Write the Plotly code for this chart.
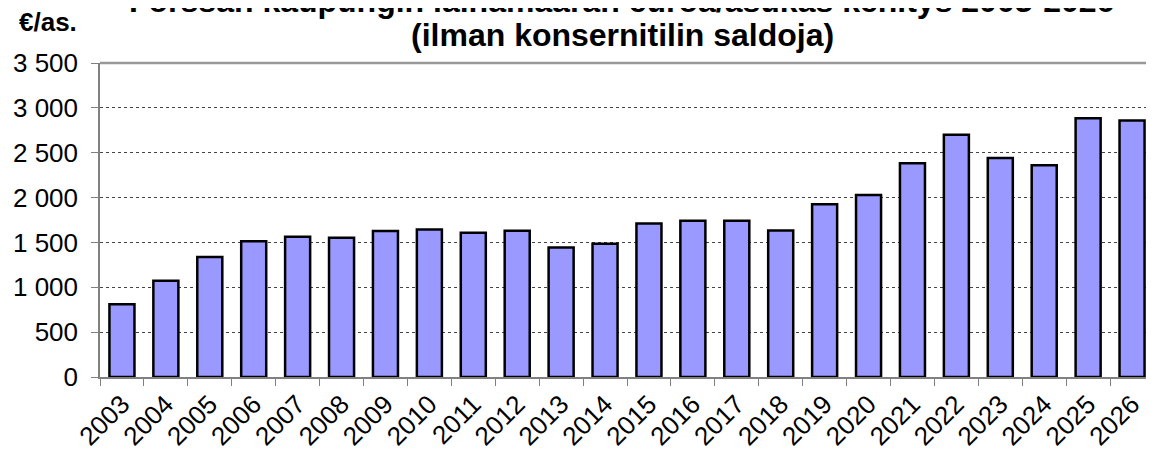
import plotly.graph_objects as go

years = [str(y) for y in range(2003, 2027)]
values = [812, 1072, 1337, 1512, 1564, 1553, 1626, 1644, 1607, 1630, 1444, 1485,
          1711, 1741, 1741, 1632, 1925, 2029, 2383, 2699, 2442, 2360, 2885, 2859]

title_line1 = "Forssan kaupungin lainamäärän euroa/asukas kehitys 2003-2026"
title_line2 = "(ilman konsernitilin saldoja)"
unit_label = "€/as."

# page body has an 8px margin; screen coordinates are shifted by it
OFF = 8
W, H = 1154, 457
L, T = 100 - OFF, 63 - OFF
B = H - (377 - OFF)
R = W - (1154 - OFF)
ph = H - T - B
pw = W - L - R

def py(screen_y):
    return 1 + (T - (screen_y - OFF)) / ph

def pxx(screen_x):
    return ((screen_x - OFF) - L) / pw

fig = go.Figure(go.Bar(
    x=years, y=values,
    marker=dict(color="#9999FF", line=dict(color="black", width=2.5)),
    width=0.57,
))

font = "Liberation Sans, Arial, sans-serif"

fig.update_layout(
    width=W, height=H,
    margin=dict(l=L, r=R, t=T, b=B),
    paper_bgcolor="white", plot_bgcolor="white",
    separators=", ",
    showlegend=False,
    font=dict(family=font, color="black"),
    xaxis=dict(
        type="category", tickangle=-45, tickson="boundaries",
        ticks="outside", ticklen=7, tickcolor="#808080",
        showline=True, linecolor="#808080", linewidth=1.5,
        tickfont=dict(size=26, family=font, color="black"),
        automargin=False, range=[-0.5, 23.5],
    ),
    yaxis=dict(
        range=[0, 3500], dtick=500, tickformat=",",
        ticks="outside", ticklen=7, tickcolor="#808080",
        showline=True, linecolor="#808080", linewidth=1.5,
        showgrid=True, gridcolor="#444444", griddash="dot", gridwidth=1,
        tickfont=dict(size=26, family=font, color="black"),
        ticklabelstandoff=8,
        automargin=False, zeroline=False,
    ),
    shapes=[dict(type="line", xref="paper", yref="paper", x0=0, x1=1, y0=1, y1=1,
                 line=dict(color="#999999", width=2.5))],
    annotations=[
        dict(text="<b>%s</b>" % title_line1, xref="paper", yref="paper",
             x=pxx(621), y=py(1), xanchor="center", yanchor="middle",
             showarrow=False, font=dict(size=32, family=font)),
        dict(text="<b>%s</b>" % title_line2, xref="paper", yref="paper",
             x=pxx(622), y=py(35), xanchor="center", yanchor="middle",
             showarrow=False, font=dict(size=32, family=font)),
        dict(text="<b>%s</b>" % unit_label, xref="paper", yref="paper",
             x=pxx(48), y=py(22), xanchor="center", yanchor="middle",
             showarrow=False, font=dict(size=26, family=font)),
    ],
)

fig.write_html("out.html")
